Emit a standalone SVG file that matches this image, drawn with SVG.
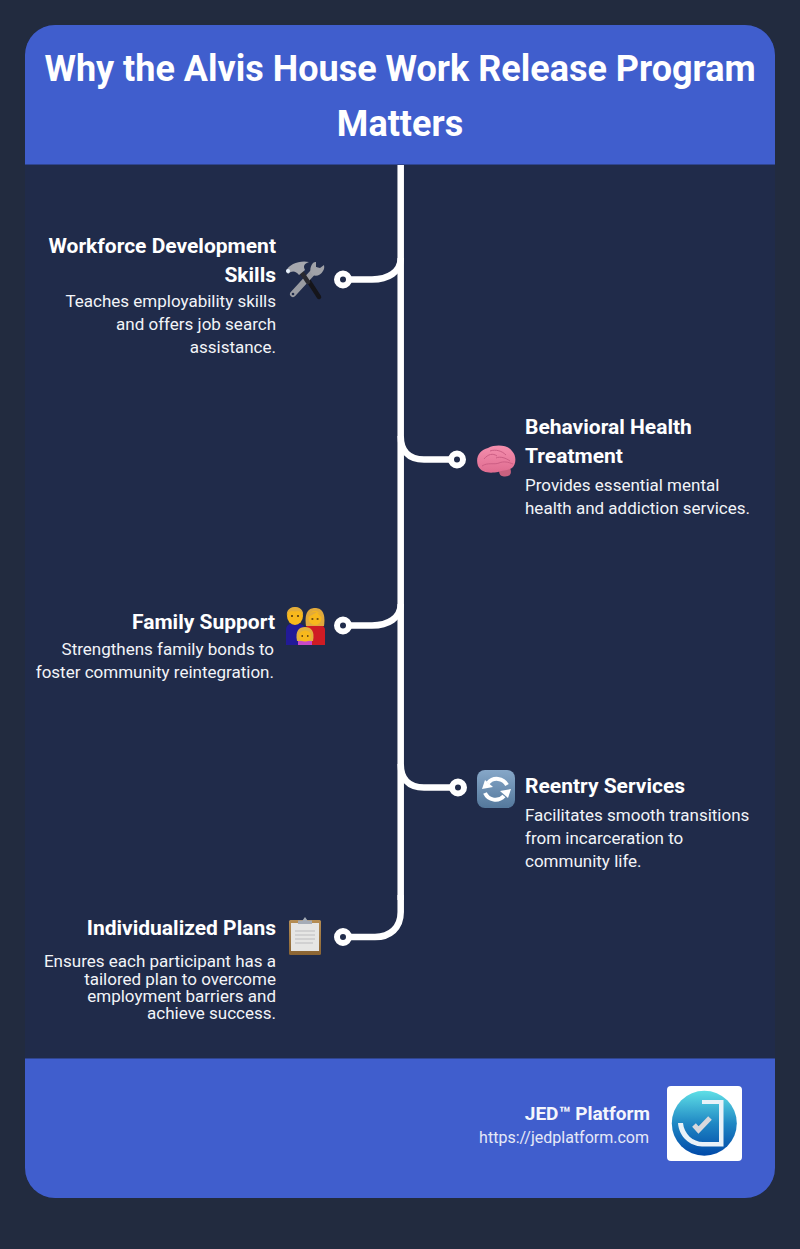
<svg xmlns="http://www.w3.org/2000/svg" width="800" height="1249" viewBox="0 0 800 1249">
<style>
text{font-family:Roboto,"Liberation Sans",sans-serif;fill:#fff}
.h{font-size:21px;font-weight:700}
.d{font-size:17px;fill:#f2f4f8}
.e{text-anchor:end}
.conn{fill:none;stroke:#fff;stroke-width:6.500}
.dot{fill:#202b4a;stroke:#fff;stroke-width:6}
</style>
<defs>
<linearGradient id="lg" x1="0" y1="0" x2="0" y2="1"><stop offset="0" stop-color="#5fdfe6"/><stop offset=".5" stop-color="#2088c4"/><stop offset="1" stop-color="#0049a8"/></linearGradient>
<linearGradient id="rg" x1="0" y1="0" x2="0" y2="1"><stop offset="0" stop-color="#86a7c8"/><stop offset="1" stop-color="#54789c"/></linearGradient>
<linearGradient id="bg" x1="0" y1="0" x2="0" y2="1"><stop offset="0" stop-color="#f58fae"/><stop offset="1" stop-color="#df6c90"/></linearGradient>
<linearGradient id="cb" x1="0" y1="0" x2="0" y2="1"><stop offset="0" stop-color="#b78f55"/><stop offset="1" stop-color="#8a6433"/></linearGradient>
</defs>
<rect width="800" height="1249" fill="#222b3f"/>
<rect x="25" y="25" width="750" height="1173" rx="30" fill="#202b4a"/>
<g id="header">
<path d="M25 164V55a30 30 0 0 1 30-30H745a30 30 0 0 1 30 30V164Z" fill="#405ecd"/>
<rect x="25" y="164" width="750" height="1" fill="#2f4590"/>
<text x="400" y="81" text-anchor="middle" font-size="36" font-weight="700">Why the Alvis House Work Release Program</text>
<text x="400" y="135.500" text-anchor="middle" font-size="36" font-weight="700">Matters</text>
</g>
<g id="connectors">
<path class="conn" d="M400.700 165V900"/>
<path class="conn" d="M400.700 258C400.700 272 388 279.500 372 279.500H343"/>
<circle class="dot" cx="343" cy="279.500" r="6"/>
<path class="conn" d="M400.700 436C400.700 450 408 459.500 424 459.500H457"/>
<circle class="dot" cx="457" cy="459.500" r="6"/>
<path class="conn" d="M400.700 604C400.700 618 388 625.500 372 625.500H343"/>
<circle class="dot" cx="343" cy="625.500" r="6"/>
<path class="conn" d="M400.700 764C400.700 778 408 787.500 424 787.500H458"/>
<circle class="dot" cx="458" cy="787.500" r="6"/>
<path class="conn" d="M400.700 895V912C400.700 928 390 937 375 937H343"/>
<circle class="dot" cx="343" cy="937" r="6"/>
</g>
<g id="node-workforce">
<text class="h e" x="276" y="253">Workforce Development</text>
<text class="h e" x="276" y="282">Skills</text>
<text class="d e" x="276" y="307">Teaches employability skills</text>
<text class="d e" x="276" y="330">and offers job search</text>
<text class="d e" x="276" y="353">assistance.</text>
<g>
<path d="M308 280L319 297" stroke="#15151a" stroke-width="4.500" stroke-linecap="round"/>
<path d="M293 294L315 270" stroke="#9a9ca2" stroke-width="6" stroke-linecap="round" fill="none"/>
<circle cx="293" cy="294" r="1.300" fill="#202b4a"/>
<path d="M313 263C309 268 310 273 313 275C316 277 321 275 323 271C325 268 324 266 324 265L320 268L316 267L316 262C315 262 314 262 313 263Z" fill="#a0a2a8"/>
<path d="M308 282L300 270" stroke="#2a2a30" stroke-width="4.500" stroke-linecap="round"/>
<path d="M286 271C289 264 300 260 309 262C304 264 303 266 305 270L299 275C296 271 292 270 288 274Z" fill="#a6a8ae"/>
<circle cx="288" cy="271" r="2" fill="#e8f2ff"/>
</g>
</g>
<g id="node-behavioral">
<text class="h" x="525" y="434">Behavioral Health</text>
<text class="h" x="525" y="463">Treatment</text>
<text class="d" x="525" y="491">Provides essential mental</text>
<text class="d" x="525" y="514">health and addiction services.</text>
<g>
<path d="M499 470C499 476 502 476.500 505 476.500C511 476.500 512 472 510 468Z" fill="#c9617f"/>
<path d="M478 466C475 457 480 450 488 448C496 444 508 445 512 451C517 456 516 465 512 468C507 471 503 470 498 472C492 473 482 474 478 466Z" fill="url(#bg)"/>
<path d="M484 459C488 454 493 453 497 456M490 451C496 449 502 451 506 455M482 466C488 462 494 465 499 463C504 461 508 462 513 464M496 458C500 456 506 458 510 461" fill="none" stroke="#cc5e84" stroke-width="1"/>
</g>
</g>
<g id="node-family">
<text class="h e" x="275" y="629">Family Support</text>
<text class="d e" x="274" y="655">Strengthens family bonds to</text>
<text class="d e" x="274" y="678">foster community reintegration.</text>
<g>
<path d="M286 645V630C286 625 290 623 295 623C301 623 305 625 305 630V645Z" fill="#221a97"/>
<path d="M305 645V630C305 626 309 624 315 624C321 624 325 626 325 630V645Z" fill="#cf1c24"/>
<ellipse cx="295" cy="616" rx="8" ry="9" fill="#f8b81c"/>
<path d="M287 616C285 604 305 604 303 616C302 611 299 611 295 611.500C291 611 288 611 287 616Z" fill="#e3ad3a"/>
<path d="M306 626C304 612 309 608 315 608C321 608 326 612 324 626Z" fill="#e0a93c"/>
<ellipse cx="315" cy="618" rx="6.500" ry="7" fill="#f8b81c"/>
<path d="M308.500 617C311 615 315 614 317 612C318 614 320 616 321.500 617C321 611 309 610 308.500 617Z" fill="#e0a93c"/>
<rect x="298" y="641" width="14" height="4" fill="#c849c9"/>
<path d="M297 641C295 631 299 627 305 627C311 627 315 631 313 641Z" fill="#e3b13c"/>
<ellipse cx="305" cy="636" rx="6" ry="5.500" fill="#f8b81c"/>
<path d="M291 616h2M297 616h2M311.500 619h1.800M316.700 619h1.800M301.500 636h1.500M307 636h1.500" stroke="#4a2f0c" stroke-width="1.500"/>
</g>
</g>
<g id="node-reentry">
<text class="h" x="525" y="793">Reentry Services</text>
<text class="d" x="525" y="821">Facilitates smooth transitions</text>
<text class="d" x="525" y="844">from incarceration to</text>
<text class="d" x="525" y="867">community life.</text>
<g>
<rect x="477" y="770" width="38" height="38" rx="8" fill="url(#rg)"/>
<path d="M507 785A11.500 11.500 0 0 0 488 783" fill="none" stroke="#fff" stroke-width="4"/>
<path d="M482 789L485 780L493 787Z" fill="#fff"/>
<path d="M485 793A11.500 11.500 0 0 0 504 796" fill="none" stroke="#fff" stroke-width="4"/>
<path d="M511 789L508 798L500 791Z" fill="#fff"/>
</g>
</g>
<g id="node-plans">
<text class="h e" x="276" y="935">Individualized Plans</text>
<text class="d e" x="276" y="967">Ensures each participant has a</text>
<text class="d e" x="276" y="985">tailored plan to overcome</text>
<text class="d e" x="276" y="1002">employment barriers and</text>
<text class="d e" x="276" y="1019">achieve success.</text>
<g>
<rect x="289" y="920" width="32" height="35" rx="1.500" fill="url(#cb)"/>
<rect x="291" y="923" width="28" height="28" fill="#e6e6e4"/>
<path d="M295 931H315M295 935H315M295 939H315M295 943H313" stroke="#cacaca" stroke-width="1.500"/>
<path d="M298 924V920.500H302.500L305 917L307.500 920.500H312V924Z" fill="#a5acb6"/>
</g>
</g>
<g id="footer">
<rect x="25" y="1058" width="750" height="1" fill="#2f4590"/>
<path d="M25 1059H775V1168a30 30 0 0 1-30 30H55a30 30 0 0 1-30-30Z" fill="#405ecd"/>
<text x="650" y="1120" class="e" style="font-size:19px;font-weight:700;fill:#f4f6fc">JED™ Platform</text>
<text x="649" y="1143" class="e" style="font-size:16px;fill:#e6e9f7">https://jedplatform.com</text>
<rect x="667" y="1086" width="75" height="75" rx="4" fill="#fff"/>
<circle cx="704.300" cy="1123.300" r="32.500" fill="url(#lg)"/>
<path d="M702 1100H723.500V1146.500H702C690 1146 679 1137 678 1123H683C684 1134 693 1142 703 1142H719V1104H702Z" fill="#e9f2f8"/>
<path d="M694 1125L698.500 1130L710 1118" fill="none" stroke="#d8d8dc" stroke-width="5"/>
</g>
</svg>
